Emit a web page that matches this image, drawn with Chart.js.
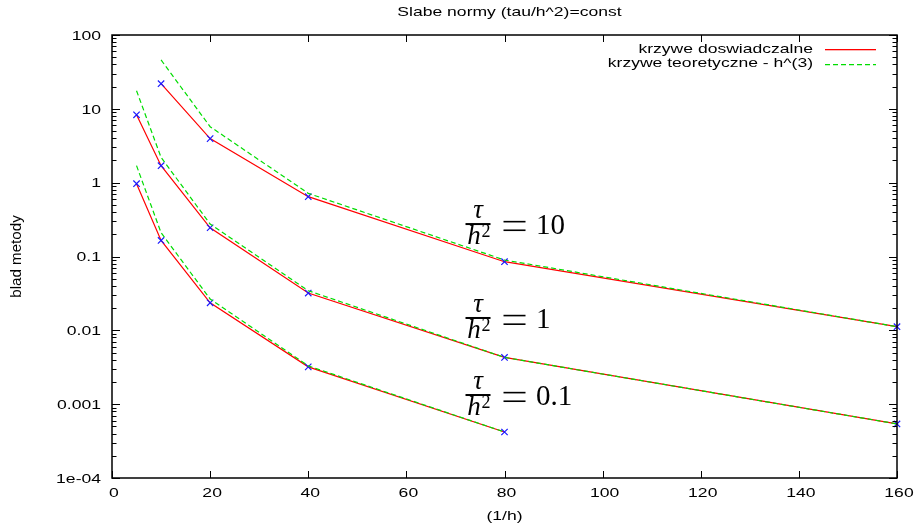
<!DOCTYPE html>
<html>
<head>
<meta charset="utf-8">
<script src="https://cdn.jsdelivr.net/npm/chart.js@4"></script>
<style>
  html, body { margin: 0; padding: 0; background: #fff; }
  #wrap { width: 915px; height: 528px; }
</style>
</head>
<body>
<div id="wrap"><canvas id="normChart"></canvas></div>
<script>
// tau/h^2 = 10
const xTau10 = [10, 20, 40, 80, 160];
const errTau10 = [21.9, 3.95, 0.646, 0.085, 0.0112];
const theoTau10 = [45.9, 5.73, 0.717, 0.0896, 0.0112];

// tau/h^2 = 1
const xTau1 = [5, 10, 20, 40, 80, 160];
const errTau1 = [8.3, 1.7, 0.245, 0.032, 0.0043, 0.00054];
const theoTau1 = [17.6, 2.2, 0.275, 0.0344, 0.0043, 0.00054];

// tau/h^2 = 0.1
const xTau01 = [5, 10, 20, 40, 80];
const errTau01 = [0.97, 0.165, 0.0236, 0.0032, 0.00042];
const theoTau01 = [1.7, 0.21, 0.0266, 0.0033, 0.00042];

const xTicks = [0, 20, 40, 60, 80, 100, 120, 140, 160];
const yTicks = [100, 10, 1, 0.1, 0.01, 0.001, 0.0001];
const yTickLabels = ['100', '10', '1', '0.1', '0.01', '0.001', '1e-04'];

const curveNames = ['krzywe doswiadczalne', 'krzywe teoretyczne - h^(3)'];
const curveLabels = ['10', '1', '0.1'];
const curveLabelX = [74.6, 74.6, 74.6];
const curveLabelY = [0.275, 0.0147, 0.00133];

const RED = '#ff0000';
const GREEN = '#00dd00';
const BLUE = '#1a1aff';
const FONT = '13.5px "Liberation Sans", Arial, sans-serif';
const HX = 1.3; // text is drawn a bit wide

function pts(xs, ys) {
  return xs.map((x, i) => ({ x: x, y: ys[i] }));
}

function redSet(xs, ys) {
  return {
    data: pts(xs, ys), borderColor: RED, borderWidth: 1.2, order: 2,
    pointStyle: 'crossRot', pointRadius: 4.5, pointBorderColor: BLUE,
    pointBorderWidth: 1.2, pointHoverRadius: 4.5, clip: false
  };
}

function greenSet(xs, ys) {
  return {
    data: pts(xs, ys), borderColor: GREEN, borderWidth: 1.2, borderDash: [5, 3],
    order: 1, pointRadius: 0, pointHoverRadius: 0, clip: false
  };
}

function wideText(ctx, s, x, y, align) {
  ctx.save();
  ctx.translate(x, y);
  ctx.scale(HX, 1);
  ctx.textAlign = align;
  ctx.fillText(s, 0, 0);
  ctx.restore();
}

// tau over h^2 = value, drawn like a LaTeX fraction
function fracLabel(ctx, cx, by, rhs) {
  ctx.save();
  ctx.fillStyle = '#000';
  ctx.textBaseline = 'alphabetic';
  ctx.textAlign = 'center';
  ctx.font = 'italic 27px "Liberation Serif", serif';
  ctx.fillText('\u03c4', cx, by - 6);
  ctx.fillText('h', cx - 4, by + 20);
  ctx.font = '18px "Liberation Serif", serif';
  ctx.fillText('2', cx + 8, by + 13);
  ctx.fillRect(cx - 12.5, by - 1, 25, 2);
  // equals sign
  ctx.fillRect(cx + 25.5, by - 3.2, 22, 1.6);
  ctx.fillRect(cx + 25.5, by + 5.4, 22, 1.6);
  ctx.textAlign = 'left';
  ctx.font = '29px "Liberation Serif", serif';
  ctx.fillText(rhs, cx + 58, by + 10);
  ctx.restore();
}

const frame = {
  id: 'frame',
  afterDraw(chart) {
    const ctx = chart.ctx;
    const a = chart.chartArea;
    const xs = chart.scales.x;
    const ys = chart.scales.y;
    ctx.save();
    ctx.strokeStyle = '#000';
    ctx.fillStyle = '#000';

    // x ticks, bottom and top, pointing inward
    ctx.lineWidth = 1;
    ctx.beginPath();
    xTicks.forEach(v => {
      const px = Math.round(xs.getPixelForValue(v)) + 0.5;
      ctx.moveTo(px, a.bottom); ctx.lineTo(px, a.bottom - 7);
      ctx.moveTo(px, a.top); ctx.lineTo(px, a.top + 7);
    });
    // y major and minor ticks, left and right
    yTicks.forEach(v => {
      const py = Math.round(ys.getPixelForValue(v)) + 0.5;
      ctx.moveTo(a.left, py); ctx.lineTo(a.left + 8, py);
      ctx.moveTo(a.right, py); ctx.lineTo(a.right - 8, py);
      if (v < 100) {
        for (let m = 2; m <= 9; m++) {
          const my = Math.round(ys.getPixelForValue(v * m)) + 0.5;
          ctx.moveTo(a.left, my); ctx.lineTo(a.left + 4.5, my);
          ctx.moveTo(a.right, my); ctx.lineTo(a.right - 4.5, my);
        }
      }
    });
    ctx.stroke();

    ctx.lineWidth = 1.5;
    ctx.strokeRect(a.left, a.top, a.right - a.left, a.bottom - a.top);

    // tick labels
    ctx.font = FONT;
    ctx.textBaseline = 'middle';
    xTicks.forEach(v => wideText(ctx, String(v), xs.getPixelForValue(v) + 2, a.bottom + 15, 'center'));
    yTicks.forEach((v, i) => wideText(ctx, yTickLabels[i], a.left - 11, ys.getPixelForValue(v) + 1, 'right'));

    // titles
    wideText(ctx, 'Slabe normy (tau/h^2)=const', (a.left + a.right) / 2 + 5, 12, 'center');
    wideText(ctx, '(1/h)', (a.left + a.right) / 2, a.bottom + 38, 'center');
    ctx.save();
    ctx.translate(17, (a.top + a.bottom) / 2);
    ctx.rotate(-Math.PI / 2);
    ctx.scale(1.08, 1);
    ctx.font = '14px "Liberation Sans", Arial, sans-serif';
    ctx.textAlign = 'center';
    ctx.fillText('blad metody', 0, 0);
    ctx.restore();

    // key, top right
    const keyRight = a.right - 84;
    [RED, GREEN].forEach((col, i) => {
      const ky = a.top + 14 + i * 14.5;
      ctx.fillStyle = '#000';
      wideText(ctx, curveNames[i], keyRight, ky, 'right');
      const ly = Math.round(ky);
      if (i === 0) {
        ctx.fillStyle = col;
        ctx.fillRect(keyRight + 12, ly, 51, 1.3);
      } else {
        ctx.strokeStyle = col;
        ctx.lineWidth = 1.3;
        ctx.setLineDash([5, 3]);
        ctx.beginPath();
        ctx.moveTo(keyRight + 12, ly + 0.65);
        ctx.lineTo(keyRight + 63, ly + 0.65);
        ctx.stroke();
        ctx.setLineDash([]);
      }
    });

    ctx.fillStyle = '#000';
    curveLabels.forEach((s, i) => {
      fracLabel(ctx, xs.getPixelForValue(curveLabelX[i]), ys.getPixelForValue(curveLabelY[i]), s);
    });
    ctx.restore();
  }
};

new Chart(document.getElementById('normChart'), {
  type: 'line',
  data: {
    datasets: [
      redSet(xTau10, errTau10), greenSet(xTau10, theoTau10),
      redSet(xTau1, errTau1), greenSet(xTau1, theoTau1),
      redSet(xTau01, errTau01), greenSet(xTau01, theoTau01)
    ]
  },
  options: {
    responsive: true,
    maintainAspectRatio: false,
    animation: false,
    layout: { padding: { top: 35, right: 18, left: 0, bottom: 0 } },
    plugins: { legend: { display: false }, tooltip: { enabled: false } },
    elements: { line: { tension: 0 } },
    scales: {
      x: {
        type: 'linear', min: 0, max: 160,
        ticks: { display: false }, grid: { display: false }, border: { display: false },
        afterFit(s) { s.height = 50; }
      },
      y: {
        type: 'logarithmic', min: 0.0001, max: 100,
        ticks: { display: false }, grid: { display: false }, border: { display: false },
        afterFit(s) { s.width = 112; }
      }
    }
  },
  plugins: [frame]
});
</script>
</body>
</html>
